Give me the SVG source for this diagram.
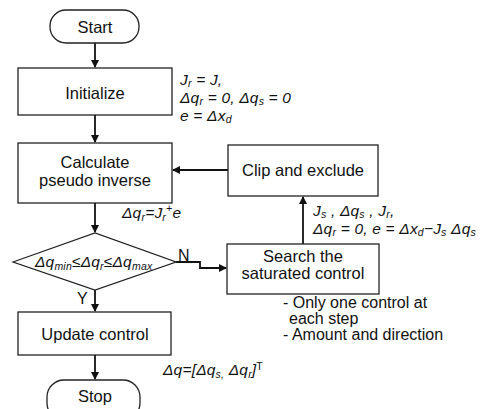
<svg xmlns="http://www.w3.org/2000/svg" width="491" height="409" viewBox="0 0 491 409">
<style>
.box{fill:#fff;stroke:#222;stroke-width:1.3}
.lbl{font-family:"Liberation Sans",Arial,sans-serif;font-size:16.5px;fill:#111;text-anchor:middle}
.math{font-family:"Liberation Sans",Arial,sans-serif;font-size:15.5px;font-style:italic;fill:#111;letter-spacing:0.2px}
.note{font-family:"Liberation Sans",Arial,sans-serif;font-size:16px;fill:#111}
.sub{font-size:10.5px}
.conn{fill:none;stroke:#111;stroke-width:1.8}
</style>
<defs>
<marker id="ah" markerWidth="8" markerHeight="8" refX="7" refY="4" orient="auto" markerUnits="userSpaceOnUse">
<path d="M0,0 L8,4 L0,8 z" fill="#111"/>
</marker>
</defs>
<rect width="491" height="409" fill="#fff"/>
<g id="connectors">
<line class="conn" x1="95" y1="43" x2="95" y2="67" marker-end="url(#ah)"/>
<line class="conn" x1="95" y1="115" x2="95" y2="142" marker-end="url(#ah)"/>
<line class="conn" x1="95" y1="203" x2="95" y2="232" marker-end="url(#ah)"/>
<line class="conn" x1="95" y1="290" x2="95" y2="311" marker-end="url(#ah)"/>
<line class="conn" x1="95" y1="355" x2="95" y2="379" marker-end="url(#ah)"/>
<line class="conn" x1="228" y1="170" x2="173" y2="170" marker-end="url(#ah)"/>
<line class="conn" x1="303" y1="244" x2="303" y2="197" marker-end="url(#ah)"/>
<polyline class="conn" points="176,262 200,262 200,268 226,268" marker-end="url(#ah)"/>
<text class="note" x="178" y="261">N</text>
<text class="note" x="77" y="304">Y</text>
</g>
<g id="start">
<rect class="box" x="50" y="10" width="89" height="33" rx="16"/>
<text class="lbl" x="95" y="33">Start</text>
</g>
<g id="initialize">
<rect class="box" x="18" y="68" width="154" height="47"/>
<text class="lbl" x="95" y="99">Initialize</text>
</g>
<g id="init-note">
<text class="math" x="180" y="85">J<tspan class="sub" dy="2">r</tspan><tspan dy="-2"> = J,</tspan></text>
<text class="math" x="180" y="103">Δq<tspan class="sub" dy="2">r</tspan><tspan dy="-2"> = 0, Δq</tspan><tspan class="sub" dy="2">s</tspan><tspan dy="-2"> = 0</tspan></text>
<text class="math" x="180" y="121">e = Δx<tspan class="sub" dy="2">d</tspan></text>
</g>
<g id="calculate">
<rect class="box" x="18" y="143" width="154" height="60"/>
<text class="lbl" x="95" y="168">Calculate</text>
<text class="lbl" x="95" y="186">pseudo inverse</text>
</g>
<g id="calc-note">
<text class="math" x="122" y="218">Δq<tspan class="sub" dy="3">r</tspan><tspan dy="-3">=J</tspan><tspan class="sub" dy="3">r</tspan><tspan class="sub" dy="-9">+</tspan><tspan dy="6">e</tspan></text>
</g>
<g id="clip">
<rect class="box" x="228" y="145" width="150" height="51"/>
<text class="lbl" x="303" y="176">Clip and exclude</text>
</g>
<g id="decision">
<polygon class="box" points="13,262 95,233 176,262 95,290"/>
<text class="math" x="35" y="267" font-size="16" letter-spacing="0">Δq<tspan class="sub" dy="3">min</tspan><tspan dy="-3">≤Δq</tspan><tspan class="sub" dy="3">r</tspan><tspan dy="-3">≤Δq</tspan><tspan class="sub" dy="3">max</tspan></text>
</g>
<g id="search">
<rect class="box" x="227" y="244" width="152" height="50"/>
<text class="lbl" x="303" y="262">Search the</text>
<text class="lbl" x="303" y="279">saturated control</text>
</g>
<g id="search-note">
<text class="math" x="313" y="216">J<tspan class="sub" dy="2">s</tspan><tspan dy="-2"> , Δq</tspan><tspan class="sub" dy="2">s</tspan><tspan dy="-2"> , J</tspan><tspan class="sub" dy="2">r</tspan><tspan dy="-2">,</tspan></text>
<text class="math" x="313" y="234">Δq<tspan class="sub" dy="2">r</tspan><tspan dy="-2"> = 0, e = Δx</tspan><tspan class="sub" dy="2">d</tspan><tspan dy="-2">−J</tspan><tspan class="sub" dy="2">s</tspan><tspan dy="-2"> Δq</tspan><tspan class="sub" dy="2">s</tspan></text>
</g>
<g id="search-bullets">
<text class="note" x="283" y="308">- Only one control at</text>
<text class="note" x="289" y="324">each step</text>
<text class="note" x="283" y="340">- Amount and direction</text>
</g>
<g id="update">
<rect class="box" x="18" y="312" width="153" height="43"/>
<text class="lbl" x="95" y="340">Update control</text>
</g>
<g id="update-note">
<text class="math" x="163" y="375">Δq=[Δq<tspan class="sub" dy="3">s,</tspan><tspan dy="-3"> Δq</tspan><tspan class="sub" dy="3">r</tspan><tspan dy="-3">]</tspan><tspan class="sub" font-style="normal" dy="-5">T</tspan></text>
</g>
<g id="stop">
<rect class="box" x="47" y="380" width="93" height="40" rx="17"/>
<text class="lbl" x="95" y="402">Stop</text>
</g>
</svg>
